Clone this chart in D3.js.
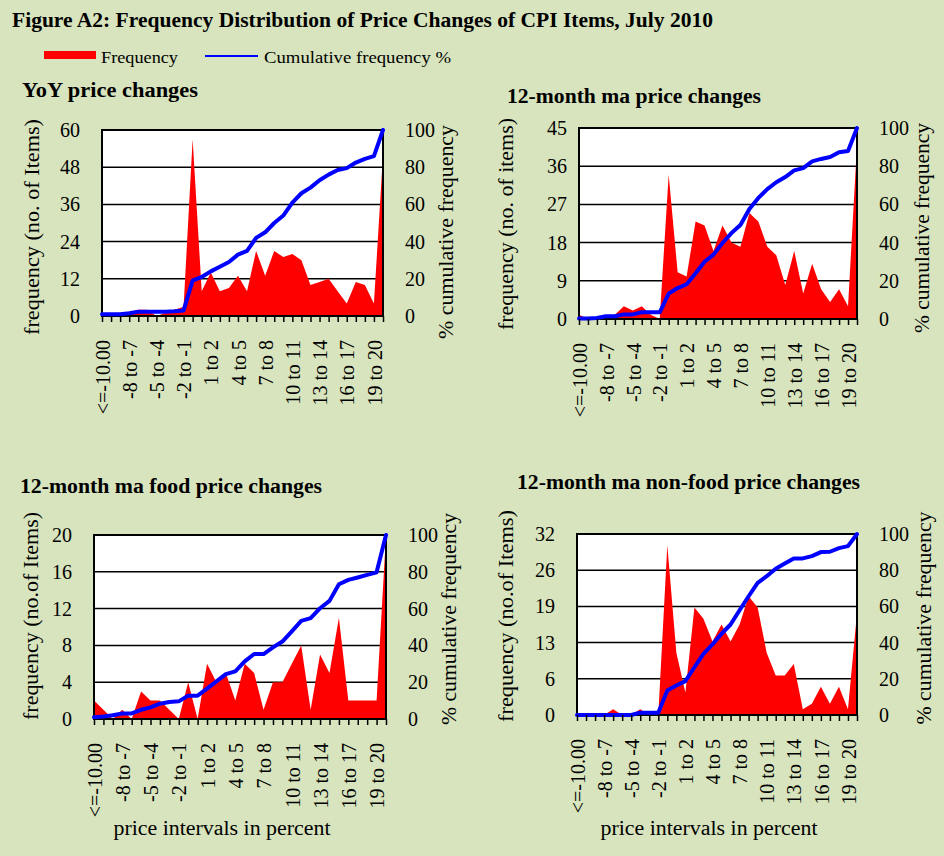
<!DOCTYPE html>
<html>
<head>
<meta charset="utf-8">
<script src="https://cdn.jsdelivr.net/npm/d3@7"></script>
<style>
  html, body { margin: 0; padding: 0; background: #D7E4BD; }
  svg { display: block; }
  text { font-family: "Liberation Serif", "Times New Roman", serif; fill: #000; }
</style>
</head>
<body>
<svg id="chart" width="944" height="856"></svg>
<script>
// ---------------- DATA ----------------
const categories = ["<=-10.00","-10 to -9","-9 to -8","-8 to -7","-7 to -6","-6 to -5","-5 to -4","-4 to -3","-3 to -2","-2 to -1","-1 to 0","0 to 1","1 to 2","2 to 3","3 to 4","4 to 5","5 to 6","6 to 7","7 to 8","8 to 9","9 to 10","10 to 11","11 to 12","12 to 13","13 to 14","14 to 15","15 to 16","16 to 17","17 to 18","18 to 19","19 to 20",">20"];

const yoyFreq = [1,1,1,1,2,2,0,1,2,3,57,8,14,8,9,13,8,21,13,21,19,20,18,10,11,12,8,4,11,10,4,52];
const yoyCum  = [1,1,1,1.5,2.3,2.3,2.3,2.3,2.5,3,19,21,24,26.5,29,33,35,42,45,50,54,61,66,69,73,76,78.5,79.5,82.5,84.5,86,100];

const maFreq = [1,0,0,0,1,3,2,3,1,0,34,11,10,23,22,16,22,18,17,25,23,17,15,8,16,6,13,7,4,7,3,41];
const maCum  = [0.3,0.3,0.5,1.4,1.4,2.4,2.4,3.5,3.5,3.5,13.3,16.2,18.2,24,30,33.7,39.8,45,49.2,57.6,63.4,68,71.6,74.3,77.8,79,82.5,83.8,84.8,87.3,88,100];

const foodFreq = [2,1,0,1,0,3,2,2,1,0,4,0,6,4,5,2,6,5,1,4,4,6,8,1,7,5,11,2,2,2,2,20];
const foodCum  = [1,1.4,2,3,3,5,6.3,8.3,9.2,9.6,12.7,12.7,16.5,20.4,24.4,25.9,31.3,35.3,35.3,38.9,42.1,47.6,53.3,54.8,60.2,64.2,73.2,75.6,76.9,78.3,79.7,100];

const nonFoodFreq = [0,0,0,0,1,0,0,1,0,0,30,11,4,19,17,13,16,13,16,21,19,11,7,7,9,1,2,5,2,5,1,18];
const nonFoodCum  = [0,0,0,0,0,0,0,1.3,1.3,1.3,13.5,16.3,18.7,26.4,33.8,39,44.9,50,57.9,65.6,73,76.7,80.8,83.7,86.5,86.5,87.8,90,90.2,92.2,93.3,100];

const yoyTicks = [0,12,24,36,48,60];
const maTicks = [0,9,18,27,36,45];
const foodTicks = [0,4,8,12,16,20];
const nonFoodTicks = [0,6.4,12.8,19.2,25.6,32];
const cumTicks = [0,20,40,60,80,100];

const mainTitle = "Figure A2: Frequency Distribution of Price Changes of CPI Items, July 2010";
const legendLabels = ["Frequency", "Cumulative frequency %"];
const xAxisTitle = "price intervals in percent";
const rightTitle = "% cumulative frequency";

// ---------------- LAYOUT ----------------
const panels = [
  { title: "YoY price changes", tx: 22, ty: 97, tw: 176,
    freq: yoyFreq, cum: yoyCum, ticks: yoyTicks,
    px: 102, py: 130, pw: 281, ph: 186, lgap: 22,
    leftTitle: "frequency (no. of Items)", lx: 33, ly: 227, lw: 216,
    rx: 447, ry: 232, rw: 214, xTitle: null },
  { title: "12-month ma price changes", tx: 507, ty: 103, tw: 254,
    freq: maFreq, cum: maCum, ticks: maTicks,
    px: 579, py: 128, pw: 278, ph: 191, lgap: 12,
    leftTitle: "frequency (no. of items)", lx: 507, ly: 224, lw: 212,
    rx: 923, ry: 228, rw: 210, xTitle: null },
  { title: "12-month ma food price changes", tx: 20, ty: 493, tw: 302,
    freq: foodFreq, cum: foodCum, ticks: foodTicks,
    px: 94, py: 535, pw: 292, ph: 184, lgap: 22,
    leftTitle: "frequency (no.of Items)", lx: 32, ly: 616, lw: 208,
    rx: 450, ry: 619, rw: 212, xTitle: { cx: 222, y: 835, w: 217 } },
  { title: "12-month ma non-food price changes", tx: 517, ty: 489, tw: 343,
    freq: nonFoodFreq, cum: nonFoodCum, ticks: nonFoodTicks,
    px: 577, py: 534, pw: 280, ph: 181, lgap: 22,
    leftTitle: "frequency (no.of Items)", lx: 507, ly: 616, lw: 212,
    rx: 925, ry: 618, rw: 213, xTitle: { cx: 709, y: 835, w: 217 } }
];

const RED = "#FF0000", BLUE = "#0000FF";
const svg = d3.select("#chart");

// Main title
svg.append("text").attr("x", 12).attr("y", 27)
  .attr("font-size", 20.5).attr("font-weight", "bold")
  .attr("textLength", 701).attr("lengthAdjust", "spacingAndGlyphs")
  .text(mainTitle);

// Legend
const lg = svg.append("g");
lg.append("rect").attr("x", 44).attr("y", 51).attr("width", 52).attr("height", 8).attr("fill", RED);
lg.append("text").attr("x", 101).attr("y", 63).attr("font-size", 17)
  .attr("textLength", 77).attr("lengthAdjust", "spacingAndGlyphs").text(legendLabels[0]);
lg.append("line").attr("x1", 205).attr("x2", 258).attr("y1", 56).attr("y2", 56)
  .attr("stroke", BLUE).attr("stroke-width", 2);
lg.append("text").attr("x", 264).attr("y", 63).attr("font-size", 17)
  .attr("textLength", 187).attr("lengthAdjust", "spacingAndGlyphs").text(legendLabels[1]);

panels.forEach(p => {
  const g = svg.append("g");
  const x = d3.scalePoint().domain(categories).range([p.px, p.px + p.pw]).padding(0);
  const yMax = p.ticks[p.ticks.length - 1];
  const y = d3.scaleLinear().domain([0, yMax]).range([p.py + p.ph, p.py]);
  const yR = d3.scaleLinear().domain([0, 100]).range([p.py + p.ph, p.py]);

  // panel title
  g.append("text").attr("x", p.tx).attr("y", p.ty)
    .attr("font-size", 20.5).attr("font-weight", "bold")
    .attr("textLength", p.tw).attr("lengthAdjust", "spacingAndGlyphs")
    .text(p.title);

  // plot background
  g.append("rect").attr("x", p.px).attr("y", p.py).attr("width", p.pw).attr("height", p.ph)
    .attr("fill", "#fff");

  // gridlines
  g.selectAll(".grid").data(p.ticks.slice(1, -1)).enter().append("line")
    .attr("x1", p.px).attr("x2", p.px + p.pw)
    .attr("y1", d => y(d)).attr("y2", d => y(d))
    .attr("stroke", "#000").attr("stroke-width", 1.5);

  // area (frequency)
  const area = d3.area()
    .x((d, i) => x(categories[i]))
    .y0(y(0))
    .y1(d => y(d));
  g.append("path").datum(p.freq).attr("d", area).attr("fill", RED);

  // plot border
  g.append("rect").attr("x", p.px).attr("y", p.py).attr("width", p.pw).attr("height", p.ph)
    .attr("fill", "none").attr("stroke", "#000").attr("stroke-width", 2);

  // cumulative line
  const line = d3.line()
    .x((d, i) => x(categories[i]))
    .y(d => yR(d));
  g.append("path").datum(p.cum).attr("d", line)
    .attr("fill", "none").attr("stroke", BLUE).attr("stroke-width", 4)
    .attr("stroke-linejoin", "round").attr("stroke-linecap", "round");

  // left axis
  const la = g.append("g").attr("transform", `translate(${p.px},0)`)
    .call(d3.axisLeft(y).tickValues(p.ticks).tickSize(0).tickPadding(p.lgap)
      .tickFormat(d3.format(".0f")));
  la.select(".domain").remove();
  la.selectAll("text").attr("font-size", 20).attr("font-family", "Liberation Serif").attr("fill", "#000");

  // right axis
  const ra = g.append("g").attr("transform", `translate(${p.px + p.pw},0)`)
    .call(d3.axisRight(yR).tickValues(cumTicks).tickSize(0).tickPadding(22));
  ra.select(".domain").remove();
  ra.selectAll("text").attr("font-size", 20).attr("font-family", "Liberation Serif").attr("fill", "#000");

  // bottom axis
  const ba = g.append("g").attr("transform", `translate(0,${p.py + p.ph})`)
    .call(d3.axisBottom(x).tickSize(6).tickPadding(0)
      .tickFormat((d, i) => (i % 3 === 0 && i < 31) ? d : ""));
  ba.select(".domain").remove();
  ba.selectAll("line").attr("stroke", "#000").attr("stroke-width", 1.5);
  ba.selectAll("text")
    .attr("font-size", 20).attr("font-family", "Liberation Serif").attr("fill", "#000")
    .attr("text-anchor", "end")
    .attr("transform", "translate(0,24) rotate(-90)")
    .attr("x", 0).attr("y", 0).attr("dy", "0.36em");

  // axis titles
  g.append("text")
    .attr("transform", `translate(${p.lx},${p.ly}) rotate(-90)`)
    .attr("text-anchor", "middle").attr("dy", "0.32em")
    .attr("font-size", 20)
    .attr("textLength", p.lw).attr("lengthAdjust", "spacingAndGlyphs")
    .text(p.leftTitle);
  g.append("text")
    .attr("transform", `translate(${p.rx},${p.ry}) rotate(-90)`)
    .attr("text-anchor", "middle").attr("dy", "0.32em")
    .attr("font-size", 20)
    .attr("textLength", p.rw).attr("lengthAdjust", "spacingAndGlyphs")
    .text(rightTitle);
  if (p.xTitle) {
    g.append("text").attr("x", p.xTitle.cx).attr("y", p.xTitle.y)
      .attr("text-anchor", "middle").attr("font-size", 20)
      .attr("textLength", p.xTitle.w).attr("lengthAdjust", "spacingAndGlyphs")
      .text(xAxisTitle);
  }
});
</script>
</body>
</html>
